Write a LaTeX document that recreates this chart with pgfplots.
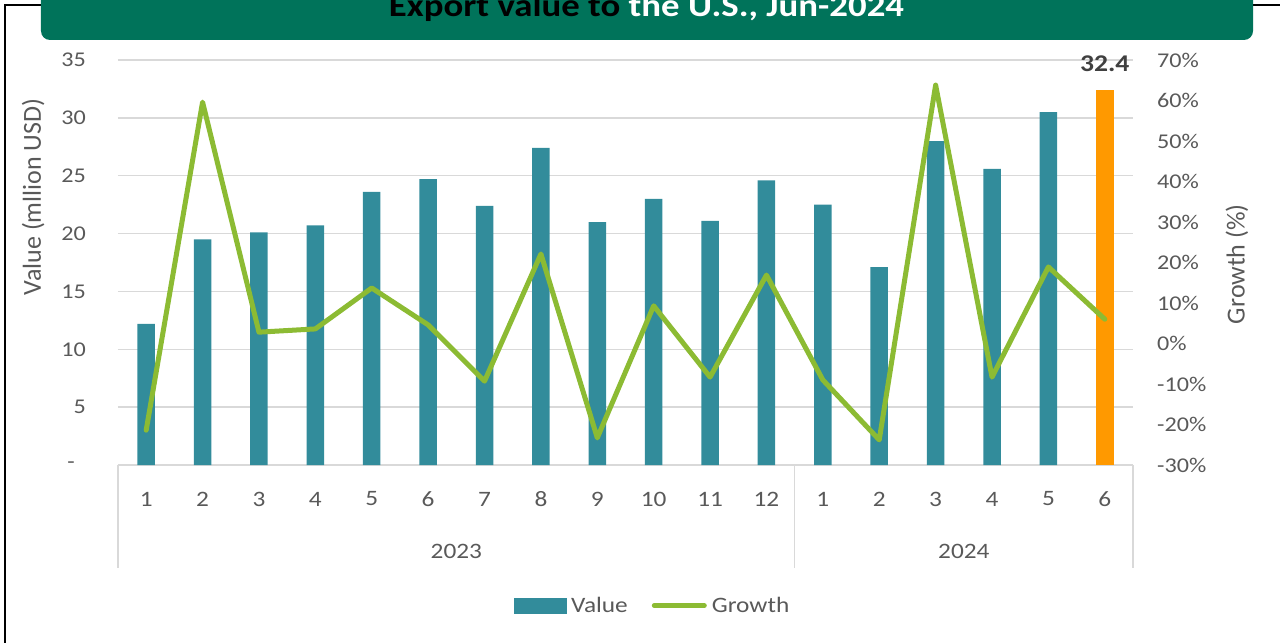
\documentclass[border=0pt]{standalone}
\usepackage{fontspec}
\setmainfont{Carlito}[FakeStretch=1.15]
\newfontfamily\rotfont{Carlito}
\usepackage{pgfplots}
\pgfplotsset{compat=1.18}

\definecolor{valcol}{RGB}{50,140,155}
\definecolor{lastcol}{RGB}{255,153,0}
\definecolor{growcol}{RGB}{140,187,51}
\definecolor{headcol}{RGB}{0,115,90}
\definecolor{txtcol}{RGB}{89,89,89}
\definecolor{labcol}{RGB}{64,64,64}
\definecolor{gridcol}{RGB}{217,217,217}

\pgfplotsset{
  base/.style={
    scale only axis, width=1015bp, height=405bp,
    xmin=0.5, xmax=18.5,
    axis line style={draw=none},
    major tick length=0pt,
    clip=false,
    /pgf/number format/assume math mode=true,
    tick label style={text=txtcol, inner sep=0pt},
    yticklabel style={font=\fontsize{21bp}{25bp}\selectfont},
    xticklabel style={font=\fontsize{22bp}{26bp}\selectfont},
    label style={font=\rotfont\fontsize{26bp}{30bp}\selectfont, text=txtcol},
  }
}

\begin{document}
\begin{tikzpicture}
\useasboundingbox (-118bp,-178bp) rectangle (1162bp,465bp);
\clip (-118bp,-178bp) rectangle (1162bp,465bp);
% outer frame and heading
\draw[black, line width=2bp] (-113bp,-200bp) -- (-113bp,460bp) -- (1200bp,460bp);
\fill[headcol, rounded corners=9bp] (-77bp,425bp) rectangle (1135bp,500bp);
\node[anchor=base, inner sep=0pt, font=\fontsize{32bp}{38bp}\selectfont\bfseries]
  at (528.5bp,448bp) {Export value to \textcolor{white}{the U.S., Jun-2024}};

% value bars
\begin{axis}[base,
  ybar, bar width=17.5bp, bar shift=0pt,
  ymin=0, ymax=35, ytick={0,5,...,35},
  yticklabels={-\hspace*{11bp},5,10,15,20,25,30,35},
  yticklabel style={anchor=east, xshift=-32bp},
  ymajorgrids, grid style={draw=gridcol, line width=1.3bp},
  xtick={1,...,18},
  xticklabels={1,2,3,4,5,6,7,8,9,10,11,12,1,2,3,4,5,6},
  xticklabel style={anchor=center, yshift=-34bp},
  ylabel={Value (mllion USD)},
  ylabel style={at={(axis description cs:-0.0837,0.662)}, anchor=center},
]
\addplot[fill=valcol, draw=none] coordinates {
  (1,12.2) (2,19.5) (3,20.1) (4,20.7) (5,23.6) (6,24.7) (7,22.4) (8,27.4)
  (9,21.0) (10,23.0) (11,21.1) (12,24.6) (13,22.5) (14,17.1) (15,28.0)
  (16,25.6) (17,30.5)
};
\addplot[fill=lastcol, draw=none, point meta=y,
  nodes near coords={\pgfmathprintnumber[fixed,fixed zerofill,precision=1]{\pgfplotspointmeta}},
  nodes near coords style={font=\fontsize{24bp}{28bp}\selectfont\bfseries,
    text=labcol, anchor=south, inner sep=0pt, yshift=18bp}]
  coordinates {(18,32.4)};
% two-level category axis
\draw[gridcol, line width=1.3bp] (axis cs:0.5,0) -- ++(0pt,-103bp);
\draw[gridcol, line width=1.3bp] (axis cs:12.5,0) -- ++(0pt,-103bp);
\draw[gridcol, line width=1.3bp] (axis cs:18.5,0) -- ++(0pt,-103bp);
\node[text=txtcol, inner sep=0pt, font=\fontsize{22bp}{26bp}\selectfont]
  at ([yshift=-86bp]axis cs:6.5,0) {2023};
\node[text=txtcol, inner sep=0pt, font=\fontsize{22bp}{26bp}\selectfont]
  at ([yshift=-86bp]axis cs:15.5,0) {2024};
\end{axis}

% growth line
\begin{axis}[base,
  ymin=-30, ymax=70, ytick={-30,-20,...,70},
  yticklabels={-30\%,-20\%,-10\%,0\%,10\%,20\%,30\%,40\%,50\%,60\%,70\%},
  yticklabel pos=right,
  yticklabel style={anchor=west, xshift=24bp},
  xtick=\empty,
  ylabel={Growth (\%)},
  ylabel style={at={(axis description cs:1.1025,0.496)}, anchor=center},
  legend columns=2,
  legend style={at={(axis description cs:0.5256,-0.347)}, anchor=center,
    draw=none, fill=none, inner sep=0pt, text=txtcol,
    font=\fontsize{22bp}{26bp}\selectfont,
    nodes={inner sep=0pt},
    /tikz/every odd column/.append style={column sep=5bp},
    /tikz/every even column/.append style={column sep=24bp}},
  legend cell align=left,
]
\addlegendimage{legend image code/.code={\fill[valcol] (0bp,-7.5bp) rectangle (52bp,7.5bp);}}
\addlegendentry{Value}
\addplot[growcol, line width=5bp, line join=round, line cap=round, mark=none,
  legend image code/.code={\draw[growcol, line width=5bp, line cap=round] (2.5bp,0bp) -- (52.5bp,0bp);}]
  coordinates {
  (1,-21.4) (2,59.6) (3,2.8) (4,3.6) (5,13.7) (6,4.6) (7,-9.3) (8,22.1)
  (9,-23.3) (10,9.3) (11,-8.3) (12,16.9) (13,-9.0) (14,-23.8) (15,63.8)
  (16,-8.3) (17,18.9) (18,6.0)
};
\addlegendentry{Growth}
\end{axis}
\end{tikzpicture}
\end{document}
